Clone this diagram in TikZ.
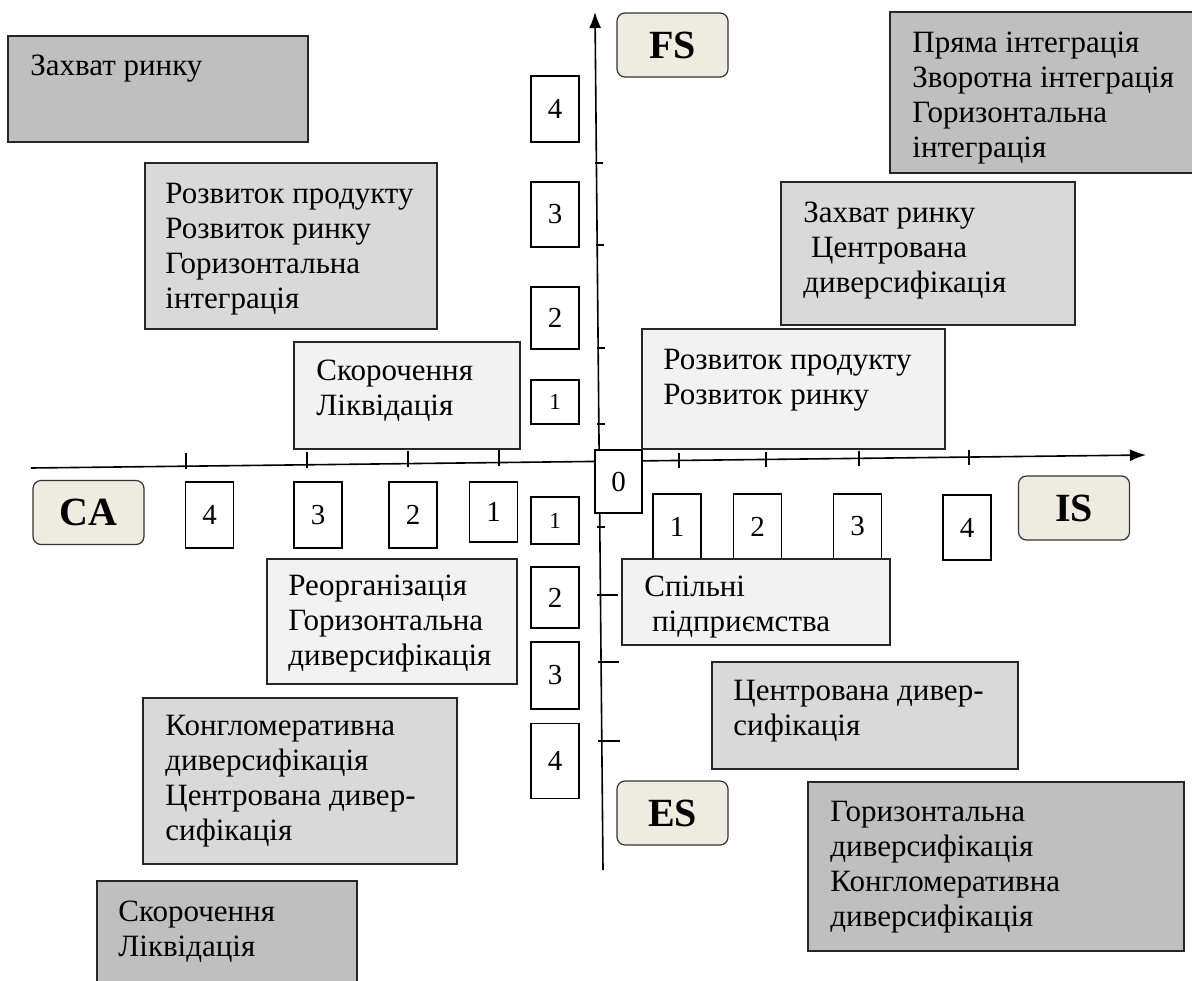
\documentclass[tikz,border=0pt]{standalone}
\usepackage{fontspec}
\setmainfont{Liberation Serif}
\usetikzlibrary{arrows.meta}

\definecolor{darkfill}{HTML}{BFBFBF}
\definecolor{midfill}{HTML}{D9D9D9}
\definecolor{lightfill}{HTML}{F2F2F2}
\definecolor{labelfill}{HTML}{EEECE1}

\begin{document}
\begin{tikzpicture}[x=0.5pt, y=-0.5pt,
  axisline/.style={line width=0.8pt, -{Latex[length=8pt, width=6pt]}},
  axtick/.style={line width=0.6pt},
  darkbox/.style={draw=black!85, line width=0.6pt, fill=darkfill},
  midbox/.style={draw=black!85, line width=0.6pt, fill=midfill},
  lightbox/.style={draw=black!85, line width=0.6pt, fill=lightfill},
  boxtext/.style={anchor=base west, align=left, inner sep=0pt, font=\fontsize{15.5}{17.5}\selectfont},
  numbox/.style={draw, line width=0.6pt, fill=white, inner sep=0pt, minimum width=24pt, font=\fontsize{14.5}{16}\selectfont},
  smallnum/.style={numbox, font=\fontsize{11.5}{13}\selectfont},
  axlabel/.style={draw=black!80, line width=0.6pt, fill=labelfill, rounded corners=4pt, inner sep=0pt,
    minimum width=55.5pt, minimum height=32pt, font=\fontsize{20}{22}\selectfont\bfseries}
]
\useasboundingbox (0,0) rectangle (1192,980);

% Axes
\coordinate (xstart) at (31,468);
\coordinate (xend) at (1146,455);
\coordinate (ystart) at (603,870);
\coordinate (yend) at (595,12);
\draw[axisline] (xstart) -- (xend);
\draw[axisline] (ystart) -- (yend);

% Ticks on the CA side
\draw[axtick] (186,453) -- (186,469);
\draw[axtick] (307,452) -- (307,468);
\draw[axtick] (408,451) -- (408,467);
\draw[axtick] (499,450) -- (499,466);
% Ticks on the IS side
\draw[axtick] (679,453) -- (679,468);
\draw[axtick] (766,452) -- (766,467);
\draw[axtick] (859,451) -- (859,466);
\draw[axtick] (969,450) -- (969,465);
% Ticks on the FS side
\draw[axtick] (595,163) -- (603,163);
\draw[axtick] (596,245) -- (604,245);
\draw[axtick] (597,348) -- (605,348);
\draw[axtick] (597,424) -- (605,424);
% Ticks on the ES side
\draw[axtick] (597,527) -- (605,527);
\draw[axtick] (597,595) -- (618,595);
\draw[axtick] (598,662) -- (619,662);
\draw[axtick] (598,741) -- (620,741);

% Scale boxes, FS
\node[numbox, minimum height=33pt] (fs4) at (555,109) {4};
\node[numbox, minimum height=32.5pt] (fs3) at (555,214.5) {3};
\node[numbox, minimum height=31pt] (fs2) at (555,318) {2};
\node[smallnum, minimum height=22pt] (fs1) at (555,402) {1};
% Scale boxes, ES
\node[smallnum, minimum height=23.5pt] (es1) at (555,520.5) {1};
\node[numbox, minimum height=30.5pt] (es2) at (555,597.5) {2};
\node[numbox, minimum height=33.5pt] (es3) at (555,675.5) {3};
\node[numbox, minimum height=37.5pt] (es4) at (555,761) {4};
% Scale boxes, CA
\node[numbox, minimum height=33pt] (ca4) at (209.5,515) {4};
\node[numbox, minimum height=33pt] (ca3) at (318,515) {3};
\node[numbox, minimum height=33pt] (ca2) at (413,515) {2};
\node[numbox, minimum height=30pt] (ca1) at (493.5,512) {1};
% Scale boxes, IS
\node[numbox, minimum height=32.5pt] (is1) at (677,526.5) {1};
\node[numbox, minimum height=32.5pt] (is2) at (757.5,526.5) {2};
\node[numbox, minimum height=32.5pt] (is3) at (857.5,526.5) {3};
\node[numbox, minimum height=32.5pt] (is4) at (967,527.5) {4};
\node[numbox, minimum width=23.5pt, minimum height=31.5pt] (origin) at (618.5,481.5) {0};

% Strategy boxes, upper left
\draw[darkbox] (8,36) rectangle (308,142);
\node[boxtext] (capture1) at (30,75) {Захват ринку};
\draw[midbox] (145,163) rectangle (437,329);
\node[boxtext] (develop1) at (165,308) {Розвиток продукту\\Розвиток ринку\\Горизонтальна\\інтеграція};
\draw[lightbox] (294,342) rectangle (520,449);
\node[boxtext] (reduce1) at (316,415) {Скорочення\\Ліквідація};

% Strategy boxes, upper right
\draw[darkbox] (890,12) rectangle (1205,173);
\node[boxtext] (integr) at (912,157) {Пряма інтеграція\\Зворотна інтеграція\\Горизонтальна\\інтеграція};
\draw[midbox] (781,182) rectangle (1075,325);
\node[boxtext] (capture2) at (803,292) {Захват ринку\\\hspace*{0.25em}Центрована\\диверсифікація};
\draw[lightbox] (642,329) rectangle (945,449);
\node[boxtext] (develop2) at (663,404) {Розвиток продукту\\Розвиток ринку};

% Strategy boxes, lower left
\draw[lightbox] (267,559) rectangle (517,684);
\node[boxtext] (reorg) at (288,665) {Реорганізація\\Горизонтальна\\диверсифікація};
\draw[midbox] (143,698) rectangle (457,864);
\node[boxtext] (conglom1) at (165,840) {Конгломеративна\\диверсифікація\\Центрована дивер-\\сифікація};
\draw[darkbox] (97,881) rectangle (357,995);
\node[boxtext] (reduce2) at (118,956) {Скорочення\\Ліквідація};

% Strategy boxes, lower right
\draw[lightbox] (622,559) rectangle (890,645);
\node[boxtext] (joint) at (644,631) {Спільні\\\hspace*{0.25em}підприємства};
\draw[midbox] (712,662) rectangle (1018,769);
\node[boxtext] (centred) at (733,735) {Центрована дивер-\\сифікація};
\draw[darkbox] (808,782) rectangle (1184,951);
\node[boxtext] (conglom2) at (830,926) {Горизонтальна\\диверсифікація\\Конгломеративна\\диверсифікація};

% Axis labels
\node[axlabel] (fs) at (672.5,45) {FS};
\node[axlabel] (ca) at (88.5,512.5) {CA};
\node[axlabel] (is) at (1074,508) {IS};
\node[axlabel] (es) at (672.5,813) {ES};

\end{tikzpicture}
\end{document}
